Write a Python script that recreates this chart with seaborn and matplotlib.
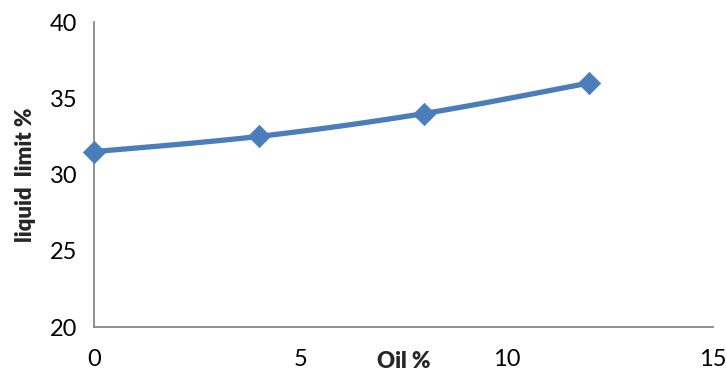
import numpy as np
import pandas as pd
import matplotlib
matplotlib.use("Agg")
import matplotlib.pyplot as plt
import seaborn as sns

# Liquid limit measured at each oil content
oil_pct = [0, 4, 8, 12]
liquid_limit = [31.5, 32.5, 34.0, 36.0]

x_ticks = [0, 5, 10, 15]
y_ticks = [20, 25, 30, 35, 40]

sns.set_style("white")
plt.rcParams["font.family"] = ["Lato", "DejaVu Sans"]

LINE_BLUE = "#4A7EBB"
AXIS_GREY = "#888888"


def smooth_curve(xs, ys, steps=40):
    """Catmull-Rom style Bezier smoothing through the given points."""
    xs = np.asarray(xs, float)
    ys = np.asarray(ys, float)
    pts = np.column_stack([xs, ys])
    n = len(pts)
    out = []
    for i in range(n - 1):
        p0 = pts[i - 1] if i > 0 else pts[i]
        p1 = pts[i]
        p2 = pts[i + 1]
        p3 = pts[i + 2] if i + 2 < n else pts[i + 1]
        c1 = p1 + (p2 - p0) / 6.0
        c2 = p2 - (p3 - p1) / 6.0
        t = np.linspace(0, 1, steps)[:, None]
        seg = ((1 - t) ** 3) * p1 + 3 * ((1 - t) ** 2) * t * c1 \
            + 3 * (1 - t) * t ** 2 * c2 + t ** 3 * p2
        out.append(seg if i == 0 else seg[1:])
    curve = np.vstack(out)
    return curve[:, 0], curve[:, 1]


fig = plt.figure(figsize=(7.27, 3.73), dpi=100)
ax = fig.add_axes([0.1293, 0.1233, 0.8514, 0.8177])

cx, cy = smooth_curve(oil_pct, liquid_limit)
curve_df = pd.DataFrame({"oil": cx, "ll": cy})
points_df = pd.DataFrame({"oil": oil_pct, "ll": liquid_limit})

sns.lineplot(data=curve_df, x="oil", y="ll", ax=ax, color=LINE_BLUE,
             linewidth=3.8, sort=False, estimator=None, zorder=3,
             solid_capstyle="round")
sns.scatterplot(data=points_df, x="oil", y="ll", ax=ax, marker="D",
                s=130, color=LINE_BLUE, edgecolor=LINE_BLUE, linewidth=0.5,
                zorder=4, clip_on=False)

ax.set_xlim(0, 15)
ax.set_ylim(20, 40)
ax.set_xticks(x_ticks)
ax.set_yticks(y_ticks)
ax.tick_params(axis="both", length=0, labelsize=17, colors="black")
ax.tick_params(axis="x", pad=16)
ax.tick_params(axis="y", pad=12)

for side in ("top", "right"):
    ax.spines[side].set_visible(False)
for side in ("left", "bottom"):
    ax.spines[side].set_color(AXIS_GREY)
    ax.spines[side].set_linewidth(1.3)

ax.set_xlabel("")
ax.set_ylabel("liquid  limit %", fontsize=16, fontweight="heavy", labelpad=10)
ax.annotate("Oil %", xy=(7.5, 0), xycoords=("data", "axes fraction"),
            xytext=(0, -24.5), textcoords="offset points",
            fontsize=16, fontweight="heavy", ha="center", va="center")

fig.savefig("out.png", dpi=100)
